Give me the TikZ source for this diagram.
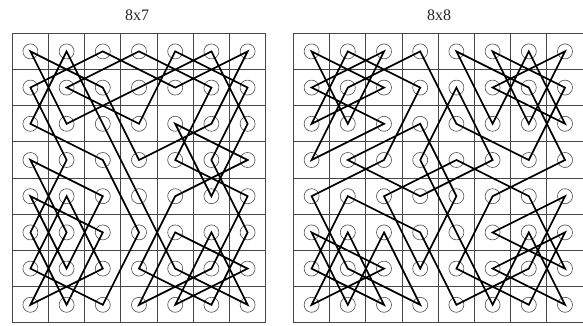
\documentclass[tikz,border=0pt]{standalone}
\usepackage{fontspec}
\setmainfont{Liberation Serif}
\usetikzlibrary{calc}
\tikzset{
boardline/.style={
    draw=gray!55!black,
    line width=0.9pt
},
cellmark/.style={
    circle,
    draw=gray!60!black,
    line width=0.6pt,
    minimum size=15pt,
    inner sep=0pt
},
tour/.style={
    draw=black,
    line width=1.7pt
},
boardtitle/.style={
    font=\fontsize{16}{19}\selectfont,
    text=black!85
}
}

\begin{document}
\begin{tikzpicture}[x=1pt, y=-1pt]
\useasboundingbox (0,0) rectangle (583,326);
\fill[white] (0,0) rectangle (583,326);

% LEFT: 8x7 BOARD
\node[boardtitle] (ltitle) at (137,15.5) {8x7};
\foreach \c in {0,...,7}
  \draw[boardline] ({12.3+36.2*\c},33.3) -- ({12.3+36.2*\c},322.9);
\foreach \r in {0,...,8}
  \draw[boardline] (12.3,{33.3+36.2*\r}) -- (265.7,{33.3+36.2*\r});
\foreach \r in {0,...,7}
  \foreach \c in {0,...,6}
    \node[cellmark] (L-\r-\c) at ({12.3+36.2*(\c+0.5)},{33.3+36.2*(\r+0.5)}) {};

% RIGHT: 8x8 BOARD
\node[boardtitle] (rtitle) at (439,15.5) {8x8};
\foreach \c in {0,...,8}
  \draw[boardline] ({293.5+36.2*\c},33.3) -- ({293.5+36.2*\c},322.9);
\foreach \r in {0,...,8}
  \draw[boardline] (293.5,{33.3+36.2*\r}) -- (583.1,{33.3+36.2*\r});
\foreach \r in {0,...,7}
  \foreach \c in {0,...,7}
    \node[cellmark] (R-\r-\c) at ({293.5+36.2*(\c+0.5)},{33.3+36.2*(\r+0.5)}) {};

% TOURS
\draw[tour] (L-0-0.center)
  \foreach \p in {1-2,3-3,2-5,0-6,1-4,0-2,1-0,3-1,5-0,7-1,5-2,4-0,6-1,4-2,3-0,
    5-1,7-0,6-2,4-1,6-0,7-2,5-3,3-2,2-0,0-1,2-2,4-3,6-4,7-6,5-5,7-4,6-6,5-4,
    7-3,6-5,4-6,3-4,1-5,0-3,1-1,2-3,0-4,1-6,3-5,5-6,7-5,6-3,4-4,3-6,2-4,4-5,
    2-6,0-5,1-3,2-1} { -- (L-\p.center) } -- cycle;

\draw[tour] (R-0-0.center)
  \foreach \p in {1-2,2-0,0-1,1-3,3-2,4-0,6-1,7-3,5-2,7-1,5-0,6-2,7-0,5-1,7-2,
    6-0,4-1,5-3,7-4,6-6,4-7,5-5,6-7,4-6,3-4,4-2,6-3,4-4,2-3,3-1,4-3,3-5,1-4,
    3-3,5-4,7-5,5-6,7-7,6-5,5-7,7-6,6-4,4-5,3-7,1-6,0-4,2-5,0-6,2-7,1-5,0-7,
    2-6,0-5,1-7,3-6,2-4,0-3,1-1,3-0,2-2,1-0,0-2,2-1} { -- (R-\p.center) } -- cycle;

\end{tikzpicture}
\end{document}
